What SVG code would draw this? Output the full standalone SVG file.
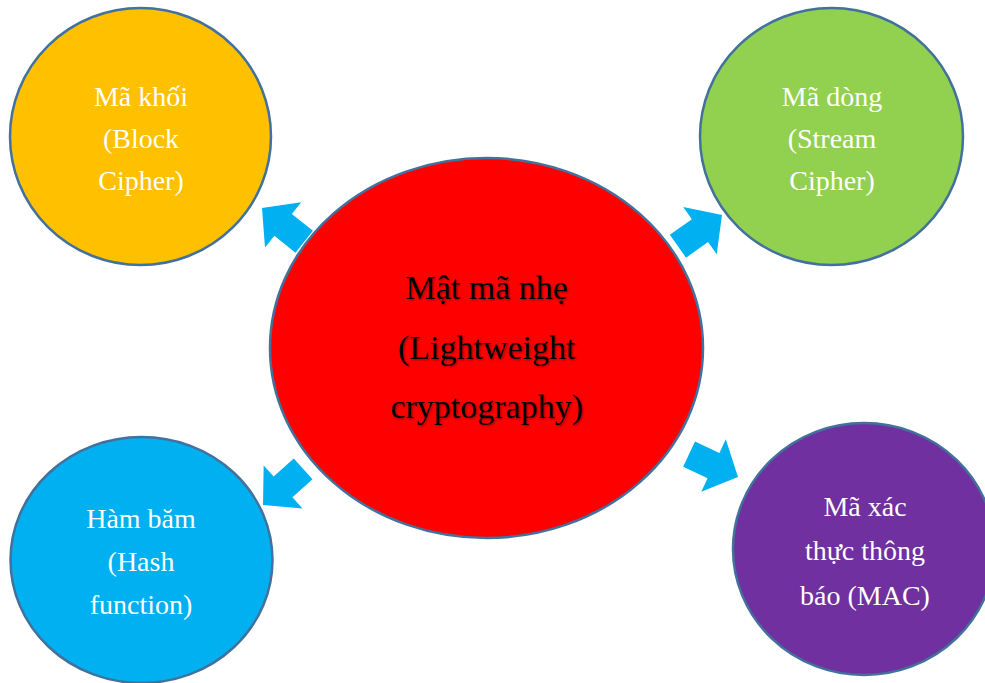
<svg xmlns="http://www.w3.org/2000/svg" width="985" height="683" viewBox="0 0 985 683">
  <defs>
    <style>
      .node { stroke: #41719C; stroke-width: 2.5; }
      .sm { font-family: "Liberation Serif", "Times New Roman", serif; font-size: 28px; fill: #FFFFFF; text-anchor: middle; }
      .big { font-family: "Liberation Serif", "Times New Roman", serif; font-size: 34px; fill: #000000; text-anchor: middle; }
      .arrow { fill: #00B0F0; }
    </style>
    <polygon id="blockArrow" points="0,0 -27,-29 -27,-14 -54,-14 -54,14 -27,14 -27,29"/>
    <filter id="shadow" x="-10%" y="-10%" width="120%" height="130%">
      <feDropShadow dx="1" dy="1" stdDeviation="0.8" flood-color="#000000" flood-opacity="0.45"/>
    </filter>
  </defs>
  <rect width="985" height="683" fill="#FFFFFF"/>

  <g id="connectors" class="arrow">
    <use href="#blockArrow" transform="translate(262,208) rotate(-141.4)"/>
    <use href="#blockArrow" transform="translate(722,215) rotate(-35.3)"/>
    <use href="#blockArrow" transform="translate(263,505) rotate(138)"/>
    <use href="#blockArrow" transform="translate(738,477) rotate(25)"/>
  </g>

  <g id="block-cipher">
    <ellipse class="node" cx="140.5" cy="136.5" rx="130.5" ry="128.5" fill="#FFC000"/>
    <text class="sm" x="141" y="106">Mã khối</text>
    <text class="sm" x="141" y="148">(Block</text>
    <text class="sm" x="141" y="190">Cipher)</text>
  </g>

  <g id="stream-cipher">
    <ellipse class="node" cx="831.5" cy="136.5" rx="131.5" ry="128.5" fill="#92D050"/>
    <text class="sm" x="832" y="106">Mã dòng</text>
    <text class="sm" x="832" y="148">(Stream</text>
    <text class="sm" x="832" y="190">Cipher)</text>
  </g>

  <g id="hash-function">
    <ellipse class="node" cx="141.5" cy="560" rx="131" ry="123" fill="#00B0F0"/>
    <text class="sm" x="141" y="528">Hàm băm</text>
    <text class="sm" x="141" y="571">(Hash</text>
    <text class="sm" x="141" y="614">function)</text>
  </g>

  <g id="mac">
    <ellipse class="node" cx="864" cy="549" rx="131" ry="126" fill="#7030A0"/>
    <text class="sm" x="865" y="516">Mã xác</text>
    <text class="sm" x="865" y="560">thực thông</text>
    <text class="sm" x="865" y="605">báo (MAC)</text>
  </g>

  <g id="lightweight-cryptography">
    <ellipse class="node" cx="486.5" cy="348" rx="216.5" ry="190" fill="#FF0000"/>
    <g filter="url(#shadow)">
      <text class="big" x="487" y="299">Mật mã nhẹ</text>
      <text class="big" x="487" y="359">(Lightweight</text>
      <text class="big" x="487" y="418">cryptography)</text>
    </g>
  </g>
</svg>
